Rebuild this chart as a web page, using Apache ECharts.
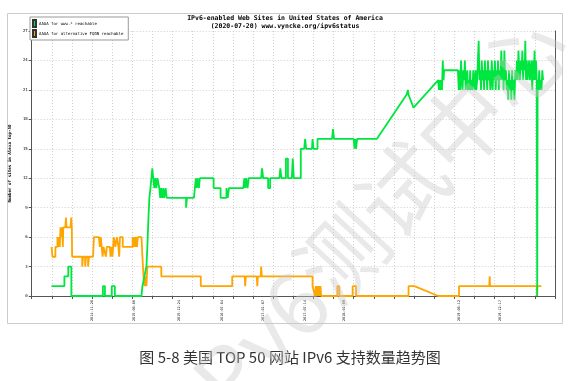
<!DOCTYPE html>
<html>
<head>
<meta charset="utf-8">
<script src="https://cdn.jsdelivr.net/npm/echarts@6/dist/echarts.min.js"></script>
<style>html,body{margin:0;padding:0;background:#fff;}#c{width:573px;height:381px;}</style>
</head>
<body>
<div id="c"></div>
<script>
// x values are weeks since start of the plotted period; one axis tick every 13 weeks
const titleLine1 = 'IPv6-enabled Web Sites in United States of America';
const titleLine2 = '(2020-07-20) www.vyncke.org/ipv6status';
const caption = '图 5-8 美国 TOP 50 网站 IPv6 支持数量趋势图';
const seriesNames = ['AAAA for www.* reachable', 'AAAA for alternative FQDN reachable'];
const yTicks = [0, 3, 6, 9, 12, 15, 18, 21, 24, 27];
const xLabelWeeks = [39, 66.4, 95.2, 122.7, 149.5, 176.3, 201.9, 276, 302.8];
const xLabelTexts = ['2014-11-26', '2015-06-06', '2015-12-24', '2016-07-04', '2017-01-07', '2017-07-14', '2018-01-09', '2019-06-12', '2019-12-17'];

const wwwReachable = [
 [12.8,1],[21.1,1],[21.1,2],[23.6,2],[23.6,3],[25.6,3],[25.6,0],
 [46.0,0],[46.0,1],[47.3,1],[47.3,0],[51.7,0],[51.7,1],[53.7,1],[53.7,0],
 [70.9,0],[71.5,1],[72.3,1],[72.8,2],[73.5,2],[74.1,3],[74.7,5],[75.4,8],[76.0,10],[76.7,11],[77.3,12],[77.9,13],[78.5,12],[79.2,11],[79.8,12],[80.5,11],[81.2,12],[82.4,11],[83.0,10],[83.6,11],[84.3,10],[85.0,11],[85.6,10],[86.5,11],[87.2,10],[90.1,10],[99.7,10],[99.7,9],[100.3,9],[100.3,10],[104.8,10],[105.4,11],[106.0,12],[106.6,11],[107.2,12],[108.0,11],[108.6,12],[117.5,12],[117.5,11],[122.0,11],[122.0,10],[125.8,10],[125.8,11],[126.6,10],[127.4,11],[130.3,11],[136.7,11],[137.3,12],[137.9,11],[138.6,12],[139.4,11],[140.2,12],[143.1,12],[148.2,12],[148.8,13],[149.5,12],[152.7,12],[152.7,11],[154.0,11],[154.0,12],[160.0,12],[160.6,13],[161.3,12],[164.2,12],[164.2,14],[165.5,14],[165.5,12],[168.0,12],[168.6,14],[169.3,12],[173.8,12],[173.8,15],[176.0,15],[176.6,16],[177.3,15],[181.0,15],[181.4,16],[182.0,15],[184.6,15],[184.6,16],[194.0,16],[194.6,17],[195.3,16],[208.0,16],[208.5,15],[209.0,16],[209.5,15],[210.2,15],[210.2,16],[222.9,16],[242.1,20.5],[243.0,21],[243.4,20.5],[246.6,19.2],[262.6,22],
 [263.0,21],[263.5,22],[264.0,21],[264.5,22],[265.0,21],[265.5,24],[266.0,22],[266.4,23],[275.3,23],[275.8,21],[276.3,23],[276.8,21],[277.3,24],[277.8,22],[278.3,21],[278.8,23],[279.3,22],[279.8,24],[280.3,21],[280.8,22],[281.3,23],[281.7,21],[282.2,22],[282.7,21],[283.2,23],[283.7,21],[284.2,22],[284.7,21],[285.2,23],[285.7,22],[286.2,21],[286.7,23],[287.2,21],[287.7,22],[288.2,24],[288.7,26],[289.2,22],[289.7,23],[290.2,21],[290.7,24],[291.2,22],[291.7,23],[292.2,21],[292.7,24],[293.2,22],[293.7,23],[294.2,21],[294.7,24],[295.2,22],[295.7,23],[296.2,21],[296.7,22],[297.2,24],[297.7,21],[298.2,23],[298.7,22],[299.2,24],[299.7,21],[300.2,23],[300.7,22],[301.2,24],[301.7,21],[302.2,23],[302.8,22],[303.3,25],[303.8,22],[304.3,24],[304.8,21],[305.3,25],[305.8,22],[306.3,23],[306.8,21],[307.3,22],[307.8,20],[308.3,23],[308.8,21],[309.3,22],[309.8,20],[310.3,23],[310.8,21],[311.3,22],[311.8,20],[312.4,23],[312.9,22],[313.4,24],[313.9,22],[314.4,25],[314.9,23],[315.4,22],[315.9,24],[316.4,23],[316.9,25],[317.4,22],[317.9,24],[318.4,23],[318.8,26],[319.3,22],[319.8,24],[320.3,22],[320.8,23],[321.3,24],[321.8,22],[322.3,23],[322.8,24],[323.3,21],[323.8,24],[324.3,22],[324.8,25],[325.2,22],[325.7,24],[326.2,22],[326.4,6],[326.5,0],[326.8,22],[327.3,21],[327.8,23],[328.3,21],[328.8,22],[329.3,21],[329.8,23],[330.3,22]
];

const altReachable = [
 [12.8,5],[13.4,4],[15.3,4],[15.3,5],[16.6,5],[16.6,6],[17.1,5],[17.6,6],[18.1,5],[18.6,7],[19.1,6],[19.6,7],[20.1,5],[20.4,7],[21.7,7],[22.1,8],[22.5,7],[25.1,7],[25.5,8],[25.9,7],[26.1,4],[32.6,4],[32.6,3],[33.2,3],[33.2,4],[34.5,4],[34.5,3],[35.1,3],[35.1,4],[36.4,4],[36.4,3],[37.0,3],[37.0,4],[39.6,4],[40.2,6],[43.4,6],[44.0,5],[44.6,6],[45.2,5],[45.8,4],[46.4,5],[47.3,5],[47.9,4],[48.5,5],[50.5,5],[50.9,4],[51.5,5],[52.1,4],[52.6,5],[53.0,5],[53.0,6],[54.0,5],[55.0,6],[56.0,5],[56.5,4],[57.0,6],[58.8,6],[58.8,5],[65.2,5],[65.2,6],[66.0,5],[66.5,6],[67.0,5],[67.5,6],[68.0,5],[68.5,6],[70.9,6],[71.5,4],[72.2,2],[72.8,1],[73.4,2],[74.1,1],[74.7,3],[83.7,3],[83.7,2],[109.2,2],[109.2,1],[129.5,1],[129.5,2],[137.6,2],[137.9,1],[138.3,2],[145.4,2],[145.7,1],[146.1,2],[148.0,2],[148.2,3],[148.6,2],[181.4,2],[181.4,1],[182.5,1],[183.0,0],[183.5,1],[184.0,0],[184.5,1],[185.0,0],[185.5,1],[186.0,0],[186.5,1],[187.0,0],[188.0,0],[197.4,0],[197.4,1],[198.7,1],[198.7,0],[207.3,0],[207.3,1],[209.5,1],[209.5,0],[243.4,0],[243.4,1],[247.2,1],[262.6,0],[276.0,0],[276.0,1],[295.5,1],[295.8,2],[296.1,1],[326.2,1],[326.4,0],[326.6,1],[329.2,1]
];

const green = '#00e640';
const orange = '#ffa500';
const mono = 'DejaVu Sans Mono';

const chart = echarts.init(document.getElementById('c'), null, {renderer: 'canvas'});
chart.setOption({
  animation: false,
  backgroundColor: '#fff',
  title: [
    {
      text: titleLine1 + '\n' + titleLine2,
      left: 280, top: 9, textAlign: 'center',
      textStyle: {fontFamily: mono, fontSize: 6.5, fontWeight: 'bold', color: '#000', lineHeight: 8}
    },
    {
      text: caption,
      left: 285, top: 345, textAlign: 'center',
      textStyle: {fontFamily: 'Noto Sans CJK SC', fontSize: 15, fontWeight: 'normal', color: '#333'}
    }
  ],
  legend: {
    orient: 'vertical', left: 30, top: 17,
    padding: [2, 5, 2, 2], itemGap: 1, itemWidth: 3, itemHeight: 7,
    backgroundColor: '#fff', borderColor: '#999', borderWidth: 1,
    icon: 'rect',
    textStyle: {fontFamily: mono, fontSize: 4, color: '#000', padding: [0, 0, 0, -2]},
    data: seriesNames
  },
  grid: {left: 26, right: 18, top: 31, bottom: 85, containLabel: false},
  xAxis: {
    type: 'value', min: 0, max: 338, interval: 13,
    axisLine: {show: true, lineStyle: {color: '#555', width: 1}},
    axisTick: {show: true, length: 3, lineStyle: {color: '#555'}},
    axisLabel: {
      customValues: xLabelWeeks,
      rotate: 90, fontFamily: mono, fontSize: 3.5, color: '#000', margin: 4,
      formatter: function (v) {
        const i = xLabelWeeks.indexOf(v);
        return i >= 0 ? xLabelTexts[i] : '';
      }
    },
    splitLine: {show: true, lineStyle: {color: '#d0d0d0', type: [1, 2], width: 1}}
  },
  yAxis: [
    {
      type: 'value', min: 0, max: 27, interval: 3,
      name: 'Number of sites in Alexa top-50', nameLocation: 'middle', nameGap: 12,
      nameTextStyle: {fontFamily: mono, fontSize: 4.2, fontWeight: 'bold', color: '#000'},
      axisLine: {show: true, lineStyle: {color: '#555', width: 1}},
      axisTick: {show: true, length: 3, lineStyle: {color: '#555'}},
      axisLabel: {fontFamily: mono, fontSize: 4, color: '#000', margin: 4},
      splitLine: {show: true, lineStyle: {color: '#d0d0d0', type: [1, 2], width: 1}}
    },
    {
      type: 'value', min: 0, max: 27, interval: 3, position: 'right',
      axisLine: {show: true, lineStyle: {color: '#555', width: 1}},
      axisTick: {show: false}, axisLabel: {show: false}, splitLine: {show: false}
    }
  ],
  series: [
    {
      name: seriesNames[0], type: 'line', data: wwwReachable, showSymbol: false, symbol: 'none',
      lineStyle: {color: green, width: 1.8}, itemStyle: {color: green, borderColor: '#333', borderWidth: 0.5}, z: 3
    },
    {
      name: seriesNames[1], type: 'line', data: altReachable, showSymbol: false, symbol: 'none',
      lineStyle: {color: orange, width: 1.8}, itemStyle: {color: orange, borderColor: '#333', borderWidth: 0.5}, z: 2
    }
  ],
  graphic: [
    {
      type: 'rect', z: -10, silent: true,
      shape: {x: 7.5, y: 13.5, width: 555, height: 310},
      style: {fill: 'none', stroke: '#cccccc', lineWidth: 1}
    },
    {
      type: 'text', z: 100, silent: true,
      x: 372, y: 222, rotation: 47 * Math.PI / 180,
      style: {text: 'IPv6测试中心', fontSize: 88, fontFamily: 'Noto Sans CJK SC', fill: 'rgba(200,200,200,0.4)', align: 'center', verticalAlign: 'middle'}
    }
  ]
});
</script>
</body>
</html>
